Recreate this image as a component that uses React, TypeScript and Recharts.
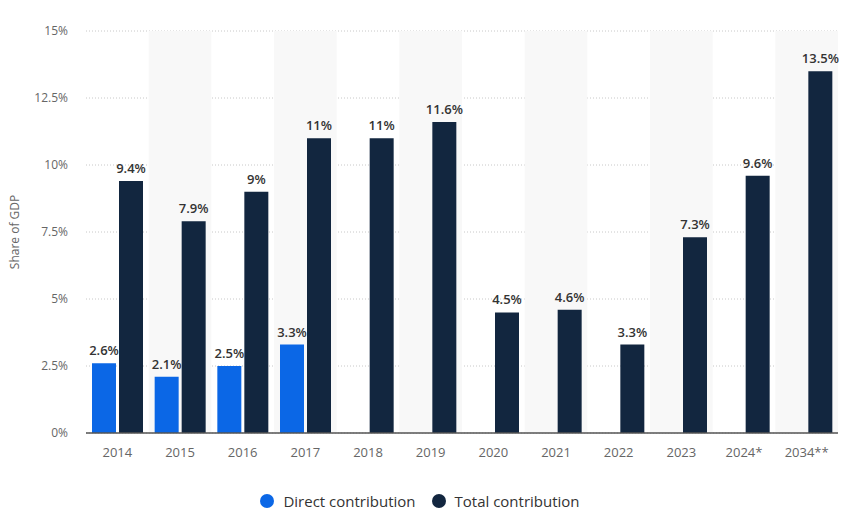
import React from 'react';
import { BarChart, Bar, XAxis, YAxis, CartesianGrid, LabelList, ReferenceArea } from 'recharts';

const categories = ['2014', '2015', '2016', '2017', '2018', '2019', '2020', '2021', '2022', '2023', '2024*', '2034**'];
const directValues: (number | null)[] = [2.6, 2.1, 2.5, 3.3, null, null, null, null, null, null, null, null];
const totalValues: number[] = [9.4, 7.9, 9, 11, 11, 11.6, 4.5, 4.6, 3.3, 7.3, 9.6, 13.5];
const yTicks = [0, 2.5, 5, 7.5, 10, 12.5, 15];
const seriesNames = ['Direct contribution', 'Total contribution'];

const data = categories.map((c, i) => ({ year: c, direct: directValues[i], total: totalValues[i] }));

const BLUE = '#0b67e6';
const DARK = '#12263f';
const FONT = '"Open Sans", "Noto Sans", sans-serif';

const fmt = (v: any) => (v === null || v === undefined ? '' : `${v}%`);

const LegendBox = () => (
  <div
    style={{
      position: 'absolute',
      left: 0,
      width: 848,
      top: 490,
      height: 22,
      display: 'flex',
      justifyContent: 'center',
      alignItems: 'center',
      gap: 16,
      fontFamily: FONT,
      fontSize: 15,
      color: '#333',
      paddingRight: 8,
      boxSizing: 'border-box',
    }}
  >
    {[[seriesNames[0], BLUE], [seriesNames[1], DARK]].map(([n, c]) => (
      <div key={n} style={{ display: 'flex', alignItems: 'center' }}>
        <span style={{ width: 14, height: 14, borderRadius: 7, background: c, display: 'inline-block', marginRight: 9 }} />
        <span>{n}</span>
      </div>
    ))}
  </div>
);

export default function App() {
  return (
    <div style={{ position: 'absolute', left: 0, top: 0, width: 848, height: 513, background: '#fff' }}>
      <BarChart
        width={848}
        height={513}
        data={data}
        margin={{ top: 31, right: 10, bottom: 50, left: 0 }}
        barGap={3}
        barCategoryGap={6}
      >
        {categories.map((c, i) =>
          i % 2 === 1 ? (
            <ReferenceArea key={c} x1={c} x2={c} fill="#f8f8f8" fillOpacity={1} stroke="none" ifOverflow="visible" y1={0} y2={15} />
          ) : null
        )}
        <CartesianGrid vertical={false} stroke="#c8c8c8" strokeDasharray="1 2" />
        <XAxis
          dataKey="year"
          height={30}
          tickLine={false}
          tickSize={0}
          tickMargin={15}
          axisLine={{ stroke: '#555', strokeWidth: 1.5 }}
          tick={{ fill: '#666', fontSize: 13, fontFamily: FONT }}
          interval={0}
        />
        <YAxis
          width={86}
          domain={[0, 15]}
          ticks={yTicks}
          tickFormatter={(v) => `${v}%`}
          tickLine={false}
          axisLine={false}
          tickSize={0}
          tickMargin={18}
          tick={{ fill: '#666', fontSize: 12, fontFamily: FONT }}
          label={{ value: 'Share of GDP', angle: -90, position: 'insideLeft', offset: 15, style: { fill: '#666', fontSize: 12, fontFamily: FONT, textAnchor: 'middle' } }}
        />
        <Bar dataKey="direct" name={seriesNames[0]} fill={BLUE} isAnimationActive={false}>
          <LabelList dataKey="direct" position="top" offset={8} formatter={fmt} style={{ fill: '#333', fontSize: 13, fontWeight: 600, fontFamily: FONT }} />
        </Bar>
        <Bar dataKey="total" name={seriesNames[1]} fill={DARK} isAnimationActive={false}>
          <LabelList dataKey="total" position="top" offset={8} formatter={fmt} style={{ fill: '#333', fontSize: 13, fontWeight: 600, fontFamily: FONT }} />
        </Bar>
      </BarChart>
      <LegendBox />
    </div>
  );
}
